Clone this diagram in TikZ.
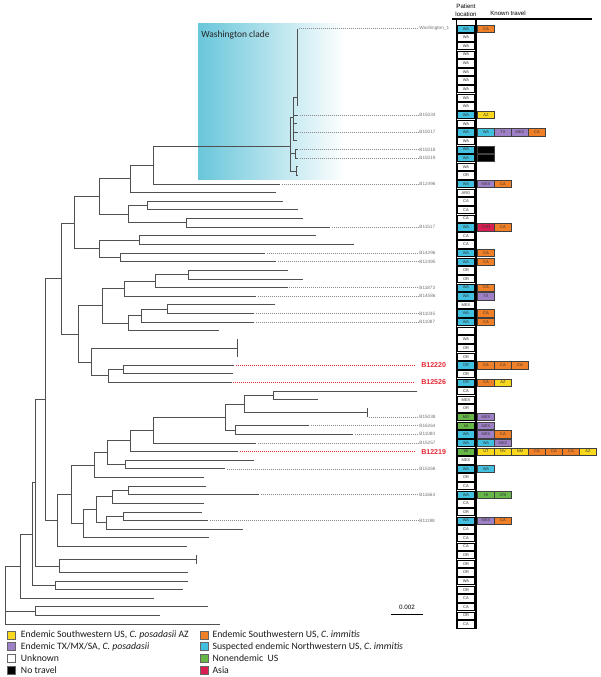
\documentclass[tikz,border=0pt]{standalone}
\usepackage{fontspec}
\setmainfont{Liberation Sans}
\newfontfamily\calfont{Carlito}
\definecolor{wacyan}{RGB}{66,192,224}
\definecolor{tor}{RGB}{240,128,40}
\definecolor{tye}{RGB}{250,216,30}
\definecolor{tpu}{RGB}{158,128,198}
\definecolor{negreen}{RGB}{102,182,72}
\definecolor{tasia}{RGB}{218,30,82}
\definecolor{cladeblue}{RGB}{105,198,218}
\definecolor{labred}{RGB}{228,40,50}
\tikzset{
  branch/.style={draw={rgb,255:red,80;green,80;blue,80}, line width=0.72pt},
  tipdots/.style={draw=black!45, line width=0.45pt, dash pattern=on 0.5pt off 1pt},
  reddots/.style={draw=labred, line width=0.45pt, dash pattern=on 0.5pt off 1pt},
  locbox/.style={draw=black, line width=0.5pt, minimum width=12.3pt, minimum height=5.5pt,
    inner sep=0pt, text=black!80, font=\fontsize{3}{3}\selectfont},
  travbox/.style={locbox, draw=black!75, minimum width=12.4pt},
  tiplabel/.style={anchor=west, inner sep=0.5pt, text=black!55, font=\fontsize{3.5}{4}\selectfont},
  redlabel/.style={anchor=west, inner sep=0pt, inner xsep=4.5pt, text=labred, font=\fontsize{5.3}{6}\selectfont\bfseries},
  legsq/.style={draw=black!60, line width=0.4pt, minimum size=6pt, inner sep=0pt},
  legtext/.style={anchor=west, inner sep=0pt, text=black!90, font=\calfont\fontsize{7.3}{8}\selectfont},
}
\begin{document}
\begin{tikzpicture}[x=0.75pt,y=0.75pt,yscale=-1,xscale=1]
\useasboundingbox (0,0) rectangle (600,677);

%Washington clade shading
\shade [left color=cladeblue, right color=white] (198,24) rectangle (345,179.5);
% Text Node
\draw (201,35) node [anchor=west, inner sep=0pt, text=black!85, font=\calfont\fontsize{7.1}{8}\selectfont] (clade) {Washington clade};

%Tree, lower part
\draw [branch] (20.7,566.2) -- (5.7,566.2) -- (5.7,624.2) -- (220,624.2) (5.7,611.2) -- (35,611.2) ;
\draw [branch] (207.7,606.9) -- (35,606.9) -- (35,615.6) -- (160,615.6) ;
\draw [branch] (32.7,534) -- (20.7,534) -- (20.7,598.3) -- (153.7,598.3) ;
\draw [branch] (35.7,482.7) -- (32.7,482.7) -- (32.7,585.3) -- (55.7,585.3) ;
\draw [branch] (187.7,581) -- (55.7,581) -- (55.7,589.7) -- (183.3,589.7) ;
\draw [branch] (45.7,399.5) -- (35.7,399.5) -- (35.7,566) -- (59.3,566) ;
\draw [branch] (196.7,559.5) -- (59.3,559.5) -- (59.3,572.4) -- (187.7,572.4) ;
\draw [branch] (196.7,555.2) -- (196.7,563.8) ;
\draw [branch] (61,278.6) -- (45.7,278.6) -- (45.7,520.5) -- (57.3,520.5) ;
\draw [branch] (71.3,494.5) -- (57.3,494.5) -- (57.3,546.5) -- (186.7,546.5) ;
\draw [branch] (94.7,465.1) -- (71.3,465.1) -- (71.3,523.8) -- (83.3,523.8) ;
\draw [branch] (96.7,509.7) -- (83.3,509.7) -- (83.3,537.9) -- (208.7,537.9) ;
\draw [branch] (112.3,496.7) -- (96.7,496.7) -- (96.7,522.6) -- (106,522.6) ;
\draw [branch] (128.3,490.4) -- (112.3,490.4) -- (112.3,503.4) -- (204.3,503.4) ;
\draw [branch] (206,486.1) -- (128.3,486.1) -- (128.3,494.7) -- (259,494.7) ;
\draw [branch] (123.3,516.3) -- (106,516.3) -- (106,529.3) -- (243.3,529.3) ;
\draw [branch] (202,512) -- (123.3,512) -- (123.3,520.6) -- (208.3,520.6) ;
\draw [branch] (107.3,452.7) -- (94.7,452.7) -- (94.7,477.5) -- (203.7,477.5) ;
\draw [branch] (130,440.8) -- (107.3,440.8) -- (107.3,464.5) -- (125.7,464.5) ;
\draw [branch] (254,460.2) -- (125.7,460.2) -- (125.7,468.8) -- (225.3,468.8) ;
\draw [branch] (153.3,430) -- (130,430) -- (130,451.6) -- (238.3,451.6) ;
\draw [branch] (225,417) -- (153.3,417) -- (153.3,443) -- (256,443) ;
\draw [branch] (244,404.1) -- (225,404.1) -- (225,430) -- (235.7,430) ;
\draw [branch] (309.3,425.7) -- (235.7,425.7) -- (235.7,434.3) -- (353.3,434.3) ;
\draw [branch] (273.3,395.5) -- (244,395.5) -- (244,412.7) -- (367.3,412.7) ;
\draw [branch] (417.3,391.2) -- (273.3,391.2) -- (273.3,399.8) -- (318.3,399.8) ;
\draw [branch] (367.3,408.4) -- (367.3,417.1) ;

%Tree, upper part
\draw [branch] (74,223.2) -- (61,223.2) -- (61,334) -- (78.3,334) ;
\draw [branch] (99.3,196.6) -- (74,196.6) -- (74,248.8) -- (99.3,248.8) ;
\draw [branch] (130,178.9) -- (99.3,178.9) -- (99.3,214.3) -- (128.3,214.3) ;
\draw [branch] (153.3,165) -- (130,165) -- (130,192.7) -- (276,192.7) ;
\draw [branch] (290.7,146) -- (153.3,146) -- (153.3,184) -- (280,184) ;
\draw [branch] (147.7,205.6) -- (128.3,205.6) -- (128.3,222.9) -- (186,222.9) ;
\draw [branch] (282.7,201.3) -- (147.7,201.3) -- (147.7,209.9) -- (297.7,209.9) ;
\draw [branch] (303.3,218.6) -- (186,218.6) -- (186,227.2) -- (330,227.2) ;
\draw [branch] (139.3,240.2) -- (99.3,240.2) -- (99.3,257.4) -- (120.7,257.4) ;
\draw [branch] (315.7,235.8) -- (139.3,235.8) -- (139.3,244.5) -- (354,244.5) ;
\draw [branch] (265,253.1) -- (120.7,253.1) -- (120.7,261.7) -- (276,261.7) ;
\draw [branch] (102.7,305.8) -- (78.3,305.8) -- (78.3,362.7) -- (91.7,362.7) ;
\draw [branch] (124.3,288.5) -- (102.7,288.5) -- (102.7,323.2) -- (128.3,323.2) ;
\draw [branch] (155.7,281) -- (124.3,281) -- (124.3,296.2) -- (256,296.2) ;
\draw [branch] (188,274.7) -- (155.7,274.7) -- (155.7,287.6) -- (287.7,287.6) ;
\draw [branch] (287.7,270.3) -- (188,270.3) -- (188,279) -- (303.3,279) ;
\draw [branch] (141.7,315.7) -- (128.3,315.7) -- (128.3,330.8) -- (219.3,330.8) ;
\draw [branch] (167.7,309.2) -- (141.7,309.2) -- (141.7,322.1) -- (254,322.1) ;
\draw [branch] (275.3,304.9) -- (167.7,304.9) -- (167.7,313.5) -- (254,313.5) ;
\draw [branch] (237.7,348) -- (91.7,348) -- (91.7,375.5) -- (108.3,375.5) ;
\draw [branch] (237.7,339.4) -- (237.7,356.6) ;
\draw [branch] (123.3,369.6) -- (108.3,369.6) -- (108.3,382.5) -- (231.7,382.5) ;
\draw [branch] (234.3,365.3) -- (123.3,365.3) -- (123.3,373.9) -- (233.3,373.9) ;

%Washington clade branches
\draw [branch] (293.3,117) -- (290.7,117) -- (290.7,171.1) -- (296,171.1) (290.7,153.9) -- (295.5,153.9) ;
\draw [branch] (297,97) -- (293.3,97) -- (293.3,140.9) -- (297,140.9) (293.3,115) -- (298,115) (293.3,123.6) -- (297,123.6) (293.3,132.3) -- (298,132.3) ;
\draw [branch] (297,28.7) -- (297,106.4) ;
\draw [branch] (298,149.5) -- (295.5,149.5) -- (295.5,158.2) -- (298,158.2) ;
\draw [branch] (298,166.8) -- (296,166.8) -- (296,175.4) -- (298,175.4) ;

%Tip labels
\foreach \n/\tx/\lab in {1/297/Washington\_1, 11/298/B15034, 13/298/B15017, 15/298/B15018, 16/298/B15019,
  19/280/B12496, 24/330/B11517, 27/265/B14296, 28/276/B12495, 31/287.7/B11873, 32/256/B14586,
  34/254/B11035, 35/254/B11087, 46/367.3/B15038, 47/309.3/B16264, 48/353.3/B11080, 49/256/B15257,
  52/225.3/B15268, 55/259/B11663, 58/208.3/B11198}{
  \node [tiplabel] (lab\n) at (418.5,{28.7+8.63*(\n-1)}) {\lab};
  \draw [tipdots] ({\tx+1.5},{28.7+8.63*(\n-1)}) -- (lab\n.west);
}
\foreach \n/\tx/\lab in {40/234.3/B12220, 42/231.7/B12526, 50/238.3/B12219}{
  \node [redlabel] (lab\n) at (415,{28.7+8.63*(\n-1)}) {\lab};
  \draw [reddots] ({\tx+1.5},{28.7+8.63*(\n-1)}) -- (lab\n.west);
}

%Header
\draw (466,10.5) node [align=center, inner sep=0pt, font=\fontsize{4.6}{6}\selectfont] (hloc) {Patient\\location};
\draw (508,13) node [inner sep=0pt, font=\fontsize{4.6}{6}\selectfont] (htrav) {Known travel};
\draw [line width=1.5pt] (452,19.5) -- (592,19.5) ;
\draw [line width=1.1pt] (456.3,19.5) -- (456.3,629) ;
\draw [line width=1.7pt] (476.3,19.5) -- (476.3,629) ;

%Patient location
\foreach \n/\t/\c in {1/WA/wacyan, 2/WA/white, 3/WA/white, 4/WA/white, 5/WA/white, 6/WA/white,
  7/WA/white, 8/WA/white, 9/WA/white, 10/WA/white, 11/WA/wacyan, 12/WA/white, 13/WA/wacyan,
  14/WA/white, 15/WA/wacyan, 16/WA/wacyan, 17/WA/white, 18/OR/white, 19/WA/wacyan, 20/ARG/white,
  21/CA/white, 22/CA/white, 23/CA/white, 24/WA/wacyan, 25/CA/white, 26/CA/white, 27/WA/wacyan,
  28/WA/wacyan, 29/OR/white, 30/OR/white, 31/WA/wacyan, 32/WA/wacyan, 33/MEX/white, 34/WA/wacyan,
  35/WA/wacyan, 36//white, 37/WA/white, 38/OR/white, 39/OR/white, 40/OR/wacyan, 41/OR/white,
  42/OR/wacyan, 43/CA/white, 44/MEX/white, 45/OR/white, 46/MD/negreen, 47/MI/negreen, 48/WA/wacyan,
  49/WA/wacyan, 50/WI/negreen, 51/MEX/white, 52/WA/wacyan, 53/OR/white, 54/CA/white, 55/WA/wacyan,
  56/CA/white, 57/OR/white, 58/WA/wacyan, 59/CA/white, 60/CA/white, 61/CA/white, 62/OR/white,
  63/OR/white, 64/OR/white, 65/WA/white, 66/OR/white, 67/CA/white, 68/CA/white, 69/OR/white, 70/CA/white}{
  \node [locbox, fill=\c] (loc\n) at (466,{28.7+8.63*(\n-1)}) {\t};
}

%Known travel
\foreach \n/\k/\t/\c in {1/1/CA/tor, 11/1/AZ/tye, 13/1/WA/wacyan, 13/2/TX/tpu, 13/3/MEX/tpu, 13/4/CA/tor,
  15/1//black, 16/1//black, 19/1/MEX/tpu, 19/2/CA/tor, 24/1/CHN/tasia, 24/2/CA/tor, 27/1/CA/tor,
  28/1/CA/tor, 31/1/CA/tor, 32/1/TX/tpu, 34/1/CA/tor, 35/1/CA/tor, 40/1/CA/tor, 40/2/CA/tor,
  40/3/CA/tor, 42/1/CA/tor, 42/2/AZ/tye, 46/1/MEX/tpu, 47/1/MEX/tpu, 48/1/MEX/tpu, 48/2/CA/tor,
  49/1/WA/wacyan, 49/2/MEX/tpu, 50/1/UT/tye, 50/2/NV/tye, 50/3/NM/tye, 50/4/CA/tor, 50/5/CA/tor,
  50/6/CA/tor, 50/7/AZ/tye, 52/1/WA/wacyan, 55/1/HI/negreen, 55/2/CRI/negreen, 58/1/MEX/tpu, 58/2/CA/tor}{
  \node [travbox, fill=\c] (tr\n-\k) at ({486+17*(\k-1)},{28.7+8.63*(\n-1)}) {\t};
}

%Scale bar
\draw [line width=0.6pt] (391,614) -- (423,614) ;
\draw (407,607.5) node [inner sep=0pt, font=\fontsize{4.7}{5}\selectfont] (scale) {0.002};

%Legend
\node [legsq, fill=tye] (key1) at (10.8,635) {};
\node [legtext] (leg1) at (20.7,635) {Endemic Southwestern US, \textit{C. posadasii} AZ};
\node [legsq, fill=tpu] (key2) at (10.8,646.7) {};
\node [legtext] (leg2) at (20.7,646.7) {Endemic TX/MX/SA, \textit{C. posadasii}};
\node [legsq, fill=white] (key3) at (10.8,658.3) {};
\node [legtext] (leg3) at (20.7,658.3) {Unknown};
\node [legsq, fill=black] (key4) at (10.8,670) {};
\node [legtext] (leg4) at (20.7,670) {No travel};
\node [legsq, fill=tor] (key5) at (204.5,635) {};
\node [legtext] (leg5) at (212.3,635) {Endemic Southwestern US, \textit{C. immitis}};
\node [legsq, fill=wacyan] (key6) at (204.5,646.7) {};
\node [legtext] (leg6) at (212.3,646.7) {Suspected endemic Northwestern US, \textit{C. immitis}};
\node [legsq, fill=negreen] (key7) at (204.5,658.3) {};
\node [legtext] (leg7) at (212.3,658.3) {Nonendemic\ \ US};
\node [legsq, fill=tasia] (key8) at (204.5,670) {};
\node [legtext] (leg8) at (212.3,670) {Asia};

\end{tikzpicture}
\end{document}
